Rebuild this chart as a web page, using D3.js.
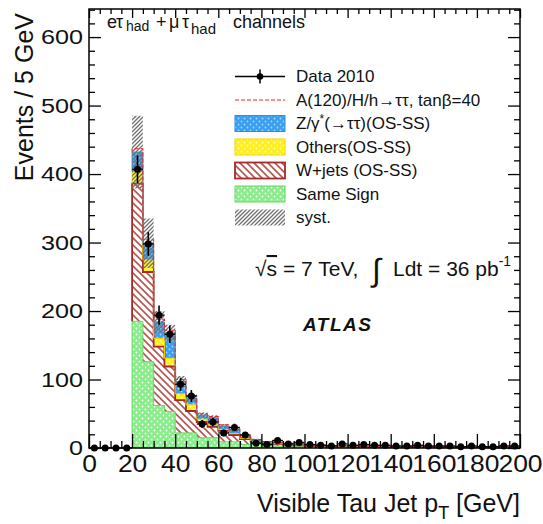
<!DOCTYPE html>
<html lang="en">
<head>
<meta charset="UTF-8">
<title>Visible Tau Jet pT</title>
<script src="https://d3js.org/d3.v7.min.js"></script>
<style>
  body { margin: 0; background: #fff; }
  svg { display: block; font-family: "Liberation Sans", Arial, sans-serif; }
  .axis path { display: none; }
  .axis line { stroke: #000; stroke-width: 1.3; }
  .axis text { fill: #111; }
</style>
</head>
<body>
<svg id="chart" width="543" height="524"></svg>
<script>
// bins of 5 GeV, lower edges
const binLow = [0, 5, 10, 15, 20, 25, 30, 35, 40, 45, 50, 55, 60, 65, 70, 75, 80, 85, 90, 95,
                100, 105, 110, 115, 120, 125, 130, 135, 140, 145, 150, 155, 160, 165, 170, 175, 180, 185, 190, 195];
const binWidth = 5;

const dataCounts = [0, 0, 0, 0, 407, 298, 194, 166, 93, 76, 35, 38, 22, 30, 19, 7, 5, 11, 6, 8,
                    5, 4, 3, 6, 4, 5, 4, 4, 3, 3, 4, 3, 3, 3, 2, 3, 2, 2, 3, 3];
const sameSign = [0, 0, 0, 0, 185, 126, 62, 53, 22, 22, 15, 15, 9, 9, 5, 5, 3, 3, 2, 2,
                  1.5, 1.5, 1.2, 1.2, 1, 1, 0.8, 0.8, 0.7, 0.7, 0.6, 0.6, 0.5, 0.5, 0.4, 0.4, 0.4, 0.3, 0.3, 0.3];
const wJets = [0, 0, 0, 0, 201, 131, 86, 66, 48, 32, 23, 16, 16, 10, 8, 4, 4, 3, 3, 2,
               1.5, 1.5, 1.3, 1.2, 1.1, 1, 1, 0.9, 0.8, 0.8, 0.7, 0.7, 0.6, 0.6, 0.5, 0.5, 0.5, 0.4, 0.4, 0.4];
const others = [0, 0, 0, 0, 18, 18, 12, 12, 9, 9, 4, 3, 2, 2, 1, 1, 0.8, 0.8, 0.6, 0.6,
                0.5, 0.5, 0.4, 0.4, 0.3, 0.3, 0.3, 0.3, 0.3, 0.3, 0.3, 0.3, 0.3, 0.3, 0.3, 0.3, 0.3, 0.3, 0.3, 0.3];
const zTauTau = [0, 0, 0, 0, 28, 24, 24, 37, 18, 10, 6, 10, 5, 5, 2, 1.5, 1, 1, 0.8, 0.8,
                 0.6, 0.5, 0.5, 0.4, 0.4, 0.3, 0.3, 0.3, 0.3, 0.3, 0.2, 0.2, 0.2, 0.2, 0.2, 0.2, 0.2, 0.2, 0.2, 0.2];
const signalA = [0, 0, 0, 0, 5, 5, 4, 4, 3, 3, 2, 2, 2, 1.5, 1, 1, 0.8, 0.6, 0.5, 0.4,
                 0.3, 0.3, 0.2, 0.2, 0.2, 0.2, 0.2, 0.1, 0.1, 0.1, 0.1, 0.1, 0.1, 0.1, 0.1, 0.1, 0.1, 0.1, 0.1, 0.1];
const systErr = [0, 0, 0, 0, 53, 36, 16, 12, 8, 6, 4, 4, 3, 3, 2, 2, 1.5, 1.2, 1, 1,
                 0.8, 0.8, 0.7, 0.7, 0.6, 0.6, 0.6, 0.5, 0.5, 0.5, 0.5, 0.5, 0.5, 0.5, 0.5, 0.5, 0.5, 0.5, 0.5, 0.5];

const xTicks = [0, 20, 40, 60, 80, 100, 120, 140, 160, 180, 200];
const xMinor = [5, 10, 15, 25, 30, 35, 45, 50, 55, 65, 70, 75, 85, 90, 95, 105, 110, 115, 125, 130, 135,
                145, 150, 155, 165, 170, 175, 185, 190, 195];
const yTicks = [0, 100, 200, 300, 400, 500, 600];
const yMinor = [20, 40, 60, 80, 120, 140, 160, 180, 220, 240, 260, 280, 320, 340, 360, 380,
                420, 440, 460, 480, 520, 540, 560, 580, 620, 640];

const svg = d3.select("#chart");
const m = { left: 89, right: 520, top: 9, bottom: 448 };
const x = d3.scaleLinear().domain([0, 200]).range([m.left, m.right]);
const y = d3.scaleLinear().domain([0, 641]).range([m.bottom, m.top]);

// patterns
const defs = svg.append("defs");
function dotPattern(id, bg, dot) {
  const p = defs.append("pattern").attr("id", id).attr("patternUnits", "userSpaceOnUse")
    .attr("width", 6).attr("height", 6);
  p.append("rect").attr("width", 6).attr("height", 6).attr("fill", bg);
  p.append("circle").attr("cx", 1.5).attr("cy", 1.5).attr("r", 0.9).attr("fill", dot);
  p.append("circle").attr("cx", 4.5).attr("cy", 4.5).attr("r", 0.9).attr("fill", dot);
}
dotPattern("pSS", "#8aec8a", "#ffffff");
dotPattern("pZ", "#3a9ff0", "#a8d8ff");
dotPattern("pOT", "#ffee22", "#ffffb0");

const pw = defs.append("pattern").attr("id", "pW").attr("patternUnits", "userSpaceOnUse")
  .attr("width", 7).attr("height", 7);
pw.append("rect").attr("width", 7).attr("height", 7).attr("fill", "#fff");
pw.append("path").attr("d", "M-1,6 l2,2 M0,0 l7,7 M6,-1 l2,2")
  .attr("stroke", "#b5554f").attr("stroke-width", 1.6);

const ps = defs.append("pattern").attr("id", "pSyst").attr("patternUnits", "userSpaceOnUse")
  .attr("width", 4).attr("height", 4);
ps.append("path").attr("d", "M-1,1 l2,-2 M0,4 l4,-4 M3,5 l2,-2")
  .attr("stroke", "#707070").attr("stroke-width", 1.3);

// stacked backgrounds
const rows = binLow.map((lo, i) => ({ lo, ss: sameSign[i], wj: wJets[i], ot: others[i], zt: zTauTau[i] }));
const keys = ["ss", "wj", "ot", "zt"];
const layers = d3.stack().keys(keys)(rows);
const first = rows.findIndex(r => r.ss + r.wj + r.ot + r.zt > 0);
const last = rows.length - 1;

const fills = { ss: "url(#pSS)", wj: "url(#pW)", ot: "url(#pOT)", zt: "url(#pZ)" };
const edges = { ss: "#66d866", wj: "#a52a2a", ot: "#f0d800", zt: "#2a8de0" };

const stepArea = d3.area().curve(d3.curveStepAfter)
  .x(d => x(d.e)).y0(d => y(d.lo)).y1(d => y(d.hi));
const stepLine = d3.line().curve(d3.curveStepAfter)
  .x(d => x(d.e)).y(d => y(d.v));

function bandPoints(lo, hi) {
  const pts = [];
  for (let i = first; i <= last; i++) pts.push({ e: binLow[i], lo: lo[i], hi: hi[i] });
  pts.push({ e: binLow[last] + binWidth, lo: lo[last], hi: hi[last] });
  return pts;
}
function outlinePoints(lo, hi) {
  const pts = [{ e: binLow[first], v: lo[first] }];
  for (let i = first; i <= last; i++) pts.push({ e: binLow[i], v: hi[i] });
  pts.push({ e: binLow[last] + binWidth, v: hi[last] });
  pts.push({ e: binLow[last] + binWidth, v: lo[last] });
  return pts;
}

const plot = svg.append("g");
layers.forEach(L => {
  const lo = L.map(d => d[0]), hi = L.map(d => d[1]);
  plot.append("path").attr("d", stepArea(bandPoints(lo, hi))).attr("fill", fills[L.key]);
});
layers.forEach(L => {
  const lo = L.map(d => d[0]), hi = L.map(d => d[1]);
  plot.append("path").attr("d", stepLine(outlinePoints(lo, hi)))
    .attr("fill", "none").attr("stroke", edges[L.key])
    .attr("stroke-width", L.key === "wj" ? 1.8 : 1);
});

// systematic band around the total
const total = layers[layers.length - 1].map(d => d[1]);
plot.append("path")
  .attr("d", stepArea(bandPoints(total.map((t, i) => Math.max(0, t - systErr[i])),
                                 total.map((t, i) => t + systErr[i]))))
  .attr("fill", "url(#pSyst)");

// signal on top of the stack
const withSignal = total.map((t, i) => t + signalA[i]);
plot.append("path").attr("d", stepLine(outlinePoints(total, withSignal)))
  .attr("fill", "none").attr("stroke", "#ff2020").attr("stroke-width", 1.1)
  .attr("stroke-dasharray", "4,2");

// data
const pts = binLow.map((lo, i) => ({ c: lo + binWidth / 2, n: dataCounts[i] }));
const dg = plot.append("g");
dg.selectAll(".ey").data(pts.filter(d => d.n > 0)).join("line")
  .attr("x1", d => x(d.c)).attr("x2", d => x(d.c))
  .attr("y1", d => y(d.n - Math.sqrt(d.n))).attr("y2", d => y(d.n + Math.sqrt(d.n)))
  .attr("stroke", "#000").attr("stroke-width", 1.6);
dg.selectAll(".ex").data(pts).join("line")
  .attr("x1", d => x(d.c - binWidth / 2)).attr("x2", d => x(d.c + binWidth / 2))
  .attr("y1", d => y(d.n)).attr("y2", d => y(d.n))
  .attr("stroke", "#000").attr("stroke-width", 1.3);
dg.selectAll("circle").data(pts).join("circle")
  .attr("cx", d => x(d.c)).attr("cy", d => y(d.n)).attr("r", 3.5).attr("fill", "#000");

// axes (ticks inward, mirrored)
function stretch(sx, size) {
  return g => g.selectAll("text").attr("font-size", size).attr("transform", `scale(${sx},1)`);
}
svg.append("g").attr("class", "axis").attr("transform", `translate(0,${m.bottom})`)
  .call(d3.axisBottom(x).tickValues(xTicks).tickSize(-14).tickPadding(8).tickFormat(d3.format("d")))
  .call(stretch(1.15, 23));
svg.append("g").attr("class", "axis").attr("transform", `translate(0,${m.bottom})`)
  .call(d3.axisBottom(x).tickValues(xMinor).tickSize(-7).tickFormat(""));
svg.append("g").attr("class", "axis").attr("transform", `translate(0,${m.top})`)
  .call(d3.axisTop(x).tickValues(xTicks).tickSize(-9).tickFormat(""));
svg.append("g").attr("class", "axis").attr("transform", `translate(0,${m.top})`)
  .call(d3.axisTop(x).tickValues(xMinor).tickSize(-5).tickFormat(""));
svg.append("g").attr("class", "axis").attr("transform", `translate(${m.left},0)`)
  .call(d3.axisLeft(y).tickValues(yTicks).tickSize(-12).tickPadding(5).tickFormat(d3.format("d")))
  .call(stretch(1.2, 21));
svg.append("g").attr("class", "axis").attr("transform", `translate(${m.left},0)`)
  .call(d3.axisLeft(y).tickValues(yMinor).tickSize(-6).tickFormat(""));
svg.append("g").attr("class", "axis").attr("transform", `translate(${m.right},0)`)
  .call(d3.axisRight(y).tickValues(yTicks).tickSize(-12).tickFormat(""));
svg.append("g").attr("class", "axis").attr("transform", `translate(${m.right},0)`)
  .call(d3.axisRight(y).tickValues(yMinor).tickSize(-6).tickFormat(""));

svg.append("rect").attr("x", m.left).attr("y", m.top)
  .attr("width", m.right - m.left).attr("height", m.bottom - m.top)
  .attr("fill", "none").attr("stroke", "#000").attr("stroke-width", 1.5);

// axis titles
svg.append("text").attr("transform", "translate(33,13) rotate(-90)")
  .attr("text-anchor", "end").attr("font-size", 25).attr("fill", "#111")
  .text("Events / 5 GeV");
const xt = svg.append("text").attr("x", m.right).attr("y", 512)
  .attr("text-anchor", "end").attr("font-size", 25).attr("fill", "#111");
xt.append("tspan").text("Visible Tau Jet p");
xt.append("tspan").attr("font-size", 18).attr("dy", 7).text("T");
xt.append("tspan").attr("dy", -7).text(" [GeV]");

// channel label
const ch = svg.append("text").attr("y", 28).attr("font-size", 18).attr("fill", "#111");
ch.append("tspan").attr("x", 107).text("e");
ch.append("tspan").attr("x", 116).text("τ");
ch.append("tspan").attr("x", 126).attr("font-size", 14).attr("dy", 3).text("had");
ch.append("tspan").attr("x", 156).attr("dy", -3).text("+");
ch.append("tspan").attr("x", 169).text("μ");
ch.append("tspan").attr("x", 182).text("τ");
ch.append("tspan").attr("x", 191).attr("font-size", 15).attr("dy", 6).text("had");
ch.append("tspan").attr("x", 233).attr("dy", -6).text("channels");

// legend
const legItems = [
  { label: "Data 2010", kind: "data" },
  { label: "A(120)/H/h→ττ, tanβ=40", kind: "signal" },
  { label: "Z/γ*(→ττ)(OS-SS)", kind: "zt" },
  { label: "Others(OS-SS)", kind: "ot" },
  { label: "W+jets (OS-SS)", kind: "wj" },
  { label: "Same Sign", kind: "ss" },
  { label: "syst.", kind: "syst" }
];
const leg = svg.append("g");
legItems.forEach((it, i) => {
  const base = 82 + i * 23.5, cy = base - 5.5;
  const g = leg.append("g");
  if (it.kind === "data") {
    g.append("line").attr("x1", 235).attr("x2", 285).attr("y1", cy).attr("y2", cy)
      .attr("stroke", "#000").attr("stroke-width", 1.5);
    g.append("line").attr("x1", 260).attr("x2", 260).attr("y1", cy - 7).attr("y2", cy + 7)
      .attr("stroke", "#000").attr("stroke-width", 1.5);
    g.append("circle").attr("cx", 260).attr("cy", cy).attr("r", 3.3).attr("fill", "#000");
  } else if (it.kind === "signal") {
    g.append("line").attr("x1", 235).attr("x2", 285).attr("y1", cy).attr("y2", cy)
      .attr("stroke", "#ff2020").attr("stroke-width", 1.1).attr("stroke-dasharray", "4,2");
  } else if (it.kind === "syst") {
    g.append("rect").attr("x", 235).attr("y", cy - 8).attr("width", 50).attr("height", 16)
      .attr("fill", "url(#pSyst)");
  } else {
    g.append("rect").attr("x", 235).attr("y", cy - 8).attr("width", 50).attr("height", 16)
      .attr("fill", fills[it.kind]).attr("stroke", edges[it.kind])
      .attr("stroke-width", it.kind === "wj" ? 1.8 : 1);
  }
  const t = g.append("text").attr("x", 296).attr("y", base).attr("font-size", 17).attr("fill", "#111");
  if (it.kind === "zt") {
    t.append("tspan").text("Z/γ");
    t.append("tspan").attr("font-size", 12).attr("dy", -6).text("*");
    t.append("tspan").attr("dy", 6).text("(→ττ)(OS-SS)");
  } else {
    t.text(it.label);
  }
});

// energy / luminosity
const lum = svg.append("text").attr("y", 276).attr("font-size", 21).attr("fill", "#111");
lum.append("tspan").attr("x", 255).text("√");
lum.append("tspan").attr("text-decoration", "overline").text("s");
lum.append("tspan").attr("x", 283).text("= 7 TeV,");
lum.append("tspan").attr("x", 372).attr("font-size", 32).attr("dy", 5).text("∫");
lum.append("tspan").attr("x", 393).attr("dy", -5).text("Ldt = 36 pb");
lum.append("tspan").attr("font-size", 14).attr("dy", -10).text("-1");

svg.append("text").attr("x", 303).attr("y", 331).attr("font-size", 19)
  .attr("font-weight", "bold").attr("font-style", "italic").attr("letter-spacing", 1.5)
  .attr("fill", "#111").text("ATLAS");
</script>
</body>
</html>
